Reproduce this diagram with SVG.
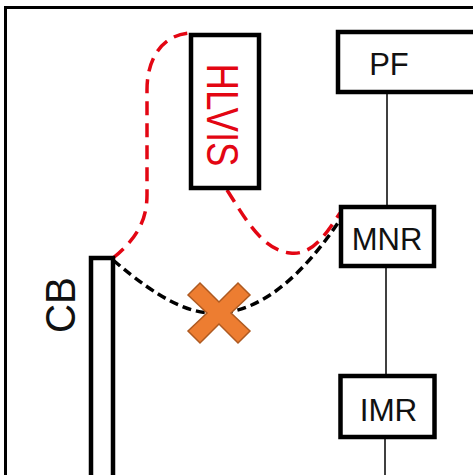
<svg xmlns="http://www.w3.org/2000/svg" width="473" height="475" viewBox="0 0 473 475">
<style>
.box{fill:#fff;stroke:#000;stroke-width:4.5}
.lbl{font-family:"Liberation Sans",Arial,sans-serif;fill:#111}
.conn{fill:none;stroke:#000;stroke-width:1.5}
.red{fill:none;stroke:#e30613;stroke-width:3.5;stroke-dasharray:14 8}
.blk{fill:none;stroke:#000;stroke-width:3.5;stroke-dasharray:9 5}
</style>
<rect width="473" height="475" fill="#fff"/>
<rect x="5.5" y="7.5" width="500" height="500" fill="none" stroke="#000" stroke-width="3"/>
<g id="connectors">
<line class="conn" x1="387" y1="94" x2="387" y2="206"/>
<line class="conn" x1="386" y1="268" x2="386" y2="376"/>
<line class="conn" x1="385" y1="437" x2="385" y2="475" stroke="#aaa"/>
<path class="red" d="M113,258 C135,240 147,222 147,195 L147,90 C147,55 165,35 189,33"/>
<path class="red" d="M227,190 C245,218 262,250 290,253 C312,256 326,234 340,213"/>
<path class="blk" d="M113,260 C160,300 190,315 220,313 C265,310 305,272 340,220"/>
</g>
<g id="HLVIS">
<rect class="box" x="191" y="35" width="68" height="153" stroke-width="4"/>
<text class="lbl" transform="translate(207,115) rotate(90)" text-anchor="middle" font-size="44" textLength="103" lengthAdjust="spacingAndGlyphs" style="fill:#e30613">HLVIS</text>
</g>
<g id="PF">
<rect class="box" x="338" y="32" width="160" height="60"/>
<text class="lbl" x="389" y="75" text-anchor="middle" font-size="31">PF</text>
</g>
<g id="MNR">
<rect class="box" x="341" y="207" width="93" height="59"/>
<text class="lbl" x="387" y="250" text-anchor="middle" font-size="31">MNR</text>
</g>
<g id="IMR">
<rect class="box" x="340.5" y="376" width="94" height="61"/>
<text class="lbl" x="388.5" y="421" text-anchor="middle" font-size="31.5">IMR</text>
</g>
<g id="CB">
<rect class="box" x="91" y="258" width="22" height="260" stroke-width="4"/>
<text class="lbl" transform="translate(75,305) rotate(-90)" text-anchor="middle" font-size="42" textLength="56" lengthAdjust="spacingAndGlyphs">CB</text>
</g>
<g id="cross">
<polygon points="188,295 200,283 219,302 238,283 250,295 231,313 250,331 238,343 219,324 200,343 188,331 207,313" fill="#ed7d31" stroke="#ae5a21" stroke-width="1.5"/>
</g>
</svg>
